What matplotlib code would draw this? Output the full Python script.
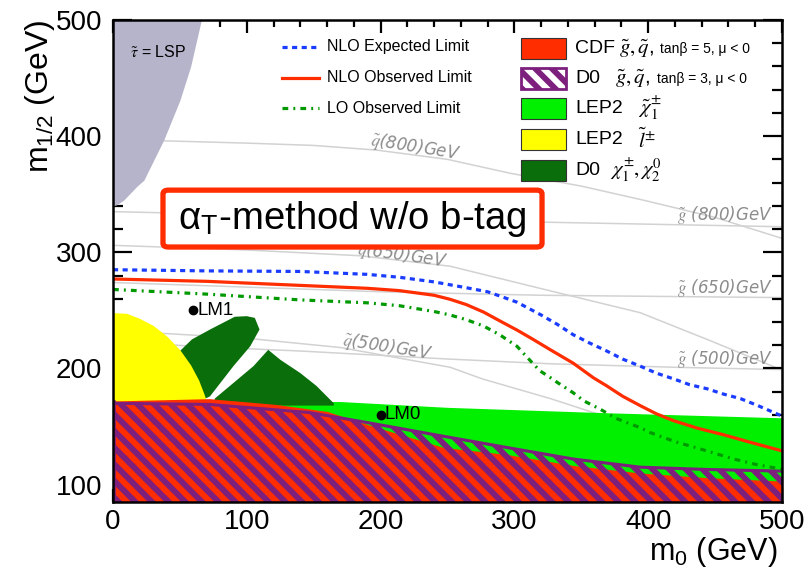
import matplotlib.pyplot as plt
from matplotlib.patches import FancyBboxPatch, Rectangle

plt.rcParams["font.family"] = ["Liberation Sans", "DejaVu Sans"]
plt.rcParams["mathtext.fontset"] = "stix"
plt.rcParams["hatch.linewidth"] = 4.2

X_RANGE = (0, 500)
Y_RANGE = (85, 500)

# limit contours in the (m0, m1/2) plane, GeV
nlo_exp_m0 = [0, 70, 140, 190, 214, 240, 264, 280, 290, 302, 320, 332, 344, 356, 369,
              381, 394, 406, 419, 431, 444, 456, 469, 482, 494, 500]
nlo_exp_m12 = [285, 284, 283.5, 281, 278.5, 274.5, 269.5, 266, 262, 257, 246, 238, 229,
               222, 215, 208, 202, 196, 191, 186, 182.5, 178, 174, 168, 162, 159]

nlo_obs_m0 = [0, 70, 140, 190, 214, 240, 252, 264, 277, 289, 302, 314, 327, 344, 359,
              369, 381, 394, 406, 419, 437, 456, 476, 496, 500]
nlo_obs_m12 = [277, 275, 271.5, 269, 267, 263, 259.5, 255, 248.5, 241, 233, 225, 216,
               204.5, 192, 185, 176, 168, 161, 155, 148.5, 143, 136.5, 130.3, 129]

lo_obs_m0 = [0, 70, 140, 190, 214, 240, 252, 264, 277, 289, 302, 310, 319, 327, 332,
             344, 352, 364, 376, 394, 401, 420, 440, 464, 480, 494, 500]
lo_obs_m12 = [268, 264, 259, 256.5, 254, 249, 246, 242, 236.5, 229, 219, 209, 198, 192,
              188, 179, 172, 165, 157, 149, 145, 137, 130.3, 122, 117.5, 114.5, 113]

# excluded regions from earlier experiments
cdf_m0 = [0, 72, 122, 160, 192, 247, 294, 344, 394, 444, 500]
cdf_m12 = [172, 174, 169, 163, 151, 132, 126, 116.5, 110, 106, 103]

d0_m0 = [0, 72, 147, 192, 245, 294, 344, 394, 444, 500]
d0_m12 = [170, 169, 162, 153, 142, 132, 122, 115, 113, 111.6]

lep_chargino_m0 = [0, 170, 250, 370, 500]
lep_chargino_m12 = [172, 171.5, 166.5, 161.8, 157.5]

lep_slepton_m0 = [0, 10, 20, 30, 40, 50, 58, 64, 68, 71]
lep_slepton_m12 = [248, 247.5, 243, 237, 228, 216, 203, 190, 178, 168]

d0_trilepton_a_m0 = [45, 50, 59, 72.5, 91, 100, 106, 109.5, 102.5, 90, 72.5, 69, 60]
d0_trilepton_a_m12 = [212, 215, 225, 233.5, 244.5, 245, 243.5, 233.5, 219, 202, 176, 174, 175]

d0_trilepton_b_m0 = [76, 90, 105, 116, 125, 140, 152, 165, 165, 76]
d0_trilepton_b_m12 = [174, 187.5, 202, 216, 207.5, 196, 185, 170, 168, 168]

# charged LSP region boundary
stau_m12 = [340, 341, 345, 357, 362, 397, 431, 460, 500]
stau_m0 = [0, 3, 8, 18, 23, 38, 50, 58, 66]

# squark and gluino iso-mass curves
iso_curves = {
    "sq800": ([37, 100, 150, 197, 250, 297, 350, 396, 450, 500],
              [396, 394, 392, 388, 380, 368, 357, 345, 330, 312]),
    "sq650": ([0, 100, 185, 252, 319, 394, 444, 497],
              [306, 302, 297, 288, 269, 248, 225, 200]),
    "sq500": ([0, 40, 100, 170, 252, 276, 327, 359, 400],
              [232, 230, 226, 218, 201, 191, 174, 162, 150]),
    "gl800": ([0, 150, 319, 500], [335, 331, 326, 322]),
    "gl650": ([0, 200, 320, 500], [274, 266, 263, 261]),
    "gl500": ([0, 60, 140, 252, 327, 420, 500], [224, 219, 215, 208, 204, 201, 199]),
}
iso_labels = [
    (r"$\tilde{q}$(800)GeV", 225.7, 390.5, -9),
    (r"$\tilde{q}$(650)GeV", 216.0, 297.2, -8),
    (r"$\tilde{q}$(500)GeV", 205.2, 218.0, -9),
    (r"$\tilde{g}$ (800)GeV", 457.4, 331.7, 0),
    (r"$\tilde{g}$ (650)GeV", 457.4, 269.0, 0),
    (r"$\tilde{g}$ (500)GeV", 457.4, 208.2, 0),
]

benchmarks = {"LM0": (200, 160), "LM1": (60, 250)}

RED = "#ff2d00"
PURPLE = "#7d1f7d"
LEP_GREEN = "#00f000"
DARK_GREEN = "#0a6e0a"
YELLOW = "#ffff00"
STAU = "#b6b4ca"
BLUE = "#1a3cff"
LO_GREEN = "#009a00"

exp_style = dict(color=BLUE, lw=2.3, ls=(0, (1.6, 1.4)))
obs_style = dict(color=RED, lw=2.3, ls="-")
lo_style = dict(color=LO_GREEN, lw=2.3, ls=(0, (1.8, 1.6, 0.6, 1.6)))

fig = plt.figure(figsize=(8.09, 5.73), dpi=100)
ax = fig.add_axes([0.1397, 0.1239, 0.8269, 0.8412])

for xs, ys in iso_curves.values():
    ax.plot(xs, ys, color="#d2d2d2", lw=1.1, zorder=1)
for text, lx, ly, rot in iso_labels:
    ax.text(lx, ly, text, color="#8c8c8c", fontsize=12, style="italic",
            family=["DejaVu Sans"], ha="center", va="center",
            rotation=rot, rotation_mode="anchor", zorder=1.5)

ax.fill_betweenx(stau_m12, 0, stau_m0, color=STAU, lw=0, zorder=2)
ax.fill_between(lep_chargino_m0, lep_chargino_m12, Y_RANGE[0],
                color=LEP_GREEN, lw=0, zorder=2)
ax.fill(d0_trilepton_a_m0, d0_trilepton_a_m12, color=DARK_GREEN, lw=0, zorder=3)
ax.fill(d0_trilepton_b_m0, d0_trilepton_b_m12, color=DARK_GREEN, lw=0, zorder=3)
ax.fill_between(lep_slepton_m0, lep_slepton_m12, Y_RANGE[0],
                color=YELLOW, lw=0, zorder=4)
ax.fill_between(cdf_m0, cdf_m12, Y_RANGE[0], color=RED, lw=0, zorder=5)
ax.fill_between(d0_m0, d0_m12, Y_RANGE[0], facecolor="none",
                edgecolor=PURPLE, hatch="\\\\", lw=0, zorder=6)
ax.plot(d0_m0, d0_m12, color=PURPLE, lw=2.2, zorder=6)
ax.plot([0, 0], [Y_RANGE[0], d0_m12[0]], color=PURPLE, lw=4, zorder=6)

ax.plot(nlo_exp_m0, nlo_exp_m12, zorder=7, **exp_style)
ax.plot(nlo_obs_m0, nlo_obs_m12, zorder=7, **obs_style)
ax.plot(lo_obs_m0, lo_obs_m12, zorder=7, **lo_style)

for name, (m0, m12) in benchmarks.items():
    ax.plot(m0, m12, "o", color="black", ms=6, zorder=8)
    ax.annotate(name, (m0, m12), xytext=(3, 0), textcoords="offset points",
                fontsize=13.5, va="center", zorder=8)

ax.text(33.6, 472.8, r"$\tilde{\tau}$ = LSP", fontsize=11.5, ha="center",
        va="center", zorder=8)

# analysis tag
ax.add_patch(FancyBboxPatch((0.0747, 0.529), 0.5666, 0.118,
                            boxstyle="round,pad=0,rounding_size=0.008",
                            transform=ax.transAxes, facecolor="white",
                            edgecolor=RED, lw=3.8, zorder=9))
ax.text(0.358, 0.588, "\u03b1$_{\\mathregular{T}}$-method w/o b-tag",
        transform=ax.transAxes, fontsize=27.5, ha="center", va="center", zorder=10)

# legend for the limit curves
for fy, style, text in [(0.9440, exp_style, "NLO Expected Limit"),
                        (0.8797, obs_style, "NLO Observed Limit"),
                        (0.8174, lo_style, "LO Observed Limit")]:
    ax.plot([0.2526, 0.308], [fy, fy], transform=ax.transAxes, zorder=10, **style)
    ax.text(0.320, fy, text, transform=ax.transAxes, fontsize=11.5,
            va="center", zorder=10)

# legend for the excluded regions
region_rows = [
    (0.9402, dict(facecolor=RED), "CDF", r"$\tilde{g}, \tilde{q}$,", 0.757,
     "tan\u03b2 = 5, \u03bc < 0", 0.8176),
    (0.8780, dict(facecolor="white", edgecolor=PURPLE, hatch="\\\\", lw=2),
     "D0", r"$\tilde{g}, \tilde{q}$,", 0.7504, "tan\u03b2 = 3, \u03bc < 0", 0.813),
    (0.8158, dict(facecolor=LEP_GREEN), "LEP2", r"$\tilde{\chi}^{\pm}_{1}$", 0.7848, None, 0),
    (0.7521, dict(facecolor=YELLOW), "LEP2", r"$\tilde{l}^{\pm}$", 0.7848, None, 0),
    (0.6878, dict(facecolor=DARK_GREEN), "D0", r"$\chi^{\pm}_{1}, \chi^{0}_{2}$", 0.7429, None, 0),
]
for fy, box, name, sym, sx, cond, cx in region_rows:
    style = dict(edgecolor="#333333", lw=0.8)
    style.update(box)
    ax.add_patch(Rectangle((0.6099, fy - 0.0218), 0.0673, 0.0436,
                           transform=ax.transAxes, zorder=10, **style))
    ax.text(0.6906, fy, name, transform=ax.transAxes, fontsize=14,
            va="center", zorder=10)
    ax.text(sx, fy, sym, transform=ax.transAxes, fontsize=15,
            va="center", zorder=10)
    if cond:
        ax.text(cx, fy, cond, transform=ax.transAxes, fontsize=10,
                va="center", zorder=10)

ax.set_xlim(*X_RANGE)
ax.set_ylim(*Y_RANGE)
ax.set_xticks(range(0, 501, 100))
ax.set_yticks(range(100, 501, 100))
ax.set_xticks(range(0, 501, 20), minor=True)
ax.set_yticks(range(100, 501, 20), minor=True)
ax.tick_params(which="both", direction="in", top=True, right=True, width=1.6,
               labelsize=20)
ax.tick_params(axis="x", which="major", length=9.5, pad=5)
ax.tick_params(axis="x", which="minor", length=5)
ax.tick_params(axis="y", which="major", length=14, pad=8)
ax.tick_params(axis="y", which="minor", length=7)
for spine in ax.spines.values():
    spine.set_linewidth(1.8)
    spine.set_zorder(12)

ax.set_xlabel(r"$\mathregular{m_{0}}$ (GeV)", fontsize=22, loc="right")
ax.xaxis.set_label_coords(0.993, -0.068)
ax.set_ylabel(r"$\mathregular{m_{1/2}}$ (GeV)", fontsize=23, loc="top")
ax.yaxis.set_label_coords(-0.083, 1.0)

fig.savefig("out.png", dpi=100)
